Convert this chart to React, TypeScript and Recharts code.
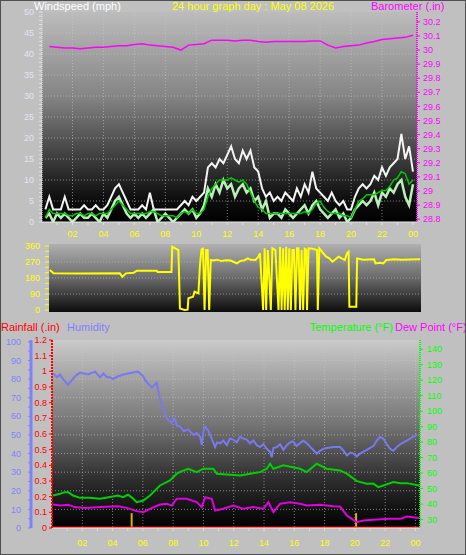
import React from 'react';
import { LineChart, Line, XAxis, YAxis, CartesianGrid, ReferenceLine } from 'recharts';

// ---------- top chart: wind (15-minute samples) + barometer (30-minute samples) ----------
const windHours = Array.from({ length: 96 }, (_, i) => (i + 1) * 0.25);
const windGust = [
  3, 6, 3, 3, 3, 6, 3, 3, 3, 3, 4, 3, 3, 4, 3, 3, 4, 6, 8, 9, 7, 5, 3, 3,
  3, 4, 3, 7, 3, 3, 3, 3, 3, 3, 3, 4, 5, 4, 6, 5, 6, 7, 13, 14, 13, 15, 14, 16,
  18, 15, 14, 17, 15, 17, 13, 12, 8, 6, 7, 5, 6, 5, 7, 6, 5, 8, 6, 9, 7, 12, 8, 7,
  6, 5, 7, 5, 4, 5, 3, 3, 6, 8, 9, 8, 9, 11, 10, 13, 11, 13, 14, 15, 21, 15, 18, 12,
];
const windSpeed = [
  1, 2, 0, 2, 1, 2, 1, 0, 1, 2, 1, 1, 2, 1, 0, 2, 1, 3, 5, 6, 4, 2, 1, 2,
  1, 2, 1, 2, 3, 0, 1, 2, 1, 0, 1, 2, 3, 2, 3, 1, 2, 4, 8, 6, 9, 7, 10, 8,
  9, 6, 8, 9, 7, 8, 5, 6, 3, 5, 1, 2, 2, 1, 3, 2, 1, 2, 3, 4, 2, 4, 5, 3,
  2, 1, 2, 3, 1, 2, 0, 1, 3, 4, 5, 4, 5, 7, 4, 7, 6, 8, 7, 9, 10, 6, 4, 9,
];
const windAvg = [
  1, 3, 2, 2, 2, 2, 1.5, 1.5, 2, 2, 1.5, 2, 2, 1.5, 2, 2, 2, 3, 4, 5, 4, 3, 2, 2,
  2, 2, 2, 2.5, 2.5, 2, 1.5, 1.5, 1.5, 1.5, 1, 2, 2.5, 2, 3, 2, 2, 3, 6, 8, 9, 10, 10, 10,
  10.5, 10, 9.5, 10, 9, 7, 5, 3.5, 3, 2, 2, 2, 2, 2, 2, 2, 2, 2, 2, 2.5, 2, 3, 4.5, 5,
  3.5, 2.5, 2, 2, 2, 1.5, 1.5, 1, 3, 5, 5.5, 6.5, 6.5, 6.5, 7, 7.5, 7.5, 8.5, 10, 10.5, 12, 11.5, 9, 10,
];
const baroHours = Array.from({ length: 48 }, (_, i) => (i + 1) * 0.5);
const baroValues = [
  30.025, 30.02, 30.015, 30.015, 30.01, 30.015, 30.02, 30.02, 30.025, 30.03, 30.03, 30.04,
  30.045, 30.035, 30.03, 30.025, 30.02, 30.0, 30.035, 30.04, 30.045, 30.07, 30.07, 30.07,
  30.065, 30.07, 30.07, 30.06, 30.055, 30.06, 30.06, 30.06, 30.06, 30.06, 30.065, 30.065,
  30.035, 30.015, 30.025, 30.03, 30.035, 30.05, 30.06, 30.075, 30.08, 30.085, 30.09, 30.105,
];

// ---------- middle chart: wind direction (hour, degrees) ----------
const dirPoints: [number, number][] = [
  [0.15, 225], [0.4, 206], [2, 205], [4.7, 206], [4.86, 187], [5.1, 206], [5.6, 210], [5.8, 221],
  [7.1, 221], [7.15, 214], [8.05, 214], [8.1, 356], [8.3, 347], [8.5, 337], [8.6, 9], [8.9, 0],
  [9.1, 2], [9.15, 66], [9.45, 75], [9.55, 103], [9.8, 94], [9.9, 253], [10.0, 341], [10.1, 345],
  [10.2, 0], [10.3, 337], [10.4, 337], [10.5, 0], [10.6, 281], [10.75, 278], [11.0, 283], [11.3, 275],
  [11.6, 280], [11.9, 278], [12.1, 270], [12.3, 262], [12.5, 275], [12.8, 280], [13.0, 290], [13.2, 282],
  [13.5, 281], [13.7, 300], [13.8, 319], [14.0, 0], [14.1, 347], [14.2, 0], [14.3, 337], [14.35, 281],
  [14.5, 0], [14.6, 347], [14.8, 337], [15.0, 0], [15.1, 356], [15.2, 0], [15.3, 347], [15.4, 0],
  [15.5, 356], [15.6, 0], [15.7, 347], [15.8, 0], [15.9, 337], [16.0, 337], [16.1, 0], [16.2, 347],
  [16.3, 347], [16.4, 0], [16.5, 337], [16.6, 0], [16.7, 345], [16.8, 340], [16.85, 0], [16.95, 347],
  [17.2, 345], [17.5, 337], [17.55, 0], [17.65, 347], [17.9, 319], [18.1, 300], [18.3, 290], [18.5, 272],
  [18.7, 285], [18.9, 300], [19.1, 290], [19.3, 281], [19.45, 320], [19.55, 328], [19.6, 19], [20.05, 19],
  [20.1, 290], [20.5, 283], [21.2, 285], [21.3, 262], [21.6, 266], [21.8, 262], [22.0, 281], [22.5, 285],
  [23.0, 283], [23.5, 284], [24.2, 285],
];

// ---------- bottom chart ----------
const humidityPoints: [number, number][] = [
  [0.07, 83], [0.33, 81], [0.53, 82.5], [0.73, 80], [1.06, 77], [1.32, 79.5], [1.6, 82], [1.85, 83.5],
  [2.38, 82.5], [2.84, 84], [3.17, 81], [3.4, 83], [3.63, 81], [3.83, 81], [4.03, 80], [4.36, 81.5],
  [4.75, 82.5], [5.02, 83], [5.37, 83.5], [5.68, 84], [6.03, 81.5], [6.14, 79.5], [6.4, 77], [6.59, 75.5],
  [6.92, 78], [7.13, 69], [7.33, 65], [7.5, 60], [7.66, 58], [7.91, 56.5], [8.1, 59], [8.24, 55],
  [8.45, 54.5], [8.7, 52], [9.0, 53], [9.11, 52], [9.35, 50], [9.56, 51], [9.78, 49], [9.89, 44.5],
  [10.0, 52], [10.11, 54.5], [10.3, 52.5], [10.55, 48], [10.77, 43.5], [10.9, 46], [11.1, 45.5], [11.31, 47],
  [11.54, 44.5], [11.75, 48], [11.97, 47.5], [12.2, 46], [12.42, 49], [12.64, 48], [12.86, 47.5], [13.08, 45.5],
  [13.3, 47], [13.52, 44.5], [13.74, 43.5], [13.96, 45], [14.18, 42.5], [14.4, 41], [14.51, 38], [14.62, 43],
  [14.84, 43.5], [15.06, 45], [15.28, 42], [15.5, 44.5], [15.72, 46], [15.92, 46.5], [16.15, 44], [16.38, 45.5],
  [16.6, 47], [16.82, 45.5], [17.0, 44], [17.24, 42], [17.48, 40], [17.7, 41.5], [17.92, 42.5], [18.14, 43],
  [18.58, 43.5], [19.02, 43.5], [19.25, 41.5], [19.47, 39], [19.7, 40.5], [19.9, 40], [20.13, 38.5], [20.35, 40],
  [20.56, 41], [20.79, 42], [21.0, 43], [21.22, 44], [21.45, 47], [21.66, 49], [21.88, 48], [22.11, 45],
  [22.33, 42.5], [22.54, 41.5], [22.77, 43.5], [23.0, 45], [23.2, 46], [23.43, 47], [23.64, 48], [23.84, 49],
  [24.1, 50],
];
const temperaturePoints: [number, number][] = [
  [0.07, 45.5], [0.53, 46.6], [0.8, 47.5], [1.06, 47.7], [1.39, 45.5], [1.85, 44], [2.51, 44], [3.17, 43.4],
  [3.83, 44.5], [4.36, 45.5], [4.69, 44.4], [5.02, 46], [5.3, 44], [5.59, 41.2], [6.03, 42.3], [6.47, 45.5],
  [7.13, 52], [7.79, 55.2], [8.24, 59.6], [8.57, 61.3], [9.0, 62.8], [9.56, 60.6], [9.99, 62.8], [10.65, 62.8],
  [10.88, 59.6], [11.54, 59.1], [12.42, 58.5], [13.08, 59.6], [13.74, 60.6], [14.18, 62.8], [14.4, 66], [14.62, 62.8],
  [15.28, 65], [15.83, 63.9], [16.38, 62.8], [16.82, 60.6], [17.48, 66], [18.14, 62.8], [19.02, 61.7], [19.47, 59.6],
  [20.13, 54.8], [20.79, 53.1], [21.22, 53.2], [21.55, 50.9], [21.88, 52], [22.54, 54.2], [23.0, 53.5], [23.43, 53.5],
  [24.24, 52],
];
const dewPointPoints: [number, number][] = [
  [0.07, 39.7], [0.53, 39], [1.06, 39.5], [1.52, 38], [2.18, 37.5], [3.17, 38], [4.36, 38.5], [4.93, 37.5],
  [5.59, 35.4], [6.03, 34.7], [6.47, 36.9], [7.13, 39.7], [7.58, 40.2], [7.91, 39], [8.24, 43.4], [8.9, 43.4],
  [9.56, 41.2], [9.89, 38], [10.11, 44.4], [10.55, 43.4], [10.77, 35.8], [11.31, 36.9], [11.97, 39], [12.64, 36.9],
  [13.3, 38], [13.96, 37], [14.29, 41.2], [14.62, 34.7], [15.06, 40.2], [15.72, 41.2], [16.38, 40.2], [16.82, 39],
  [17.7, 39.5], [18.58, 38.6], [19.02, 38.4], [19.47, 32.6], [20.13, 28.3], [20.56, 29.4], [21.45, 30], [22.33, 30.4],
  [23.0, 30.4], [23.43, 31.9], [24.24, 31],
];
const rainfallPoints: [number, number][] = [[0, 0], [24.3, 0]];
const markerHours = [5.26, 20.08];

// ---------- tick lists ----------
const hourTicks = Array.from({ length: 24 }, (_, i) => i + 1);
const windTicks = Array.from({ length: 51 }, (_, i) => i);
const baroTicks = [28.8, 28.9, 29.0, 29.1, 29.2, 29.3, 29.4, 29.5, 29.6, 29.7, 29.8, 29.9, 30.0, 30.1, 30.2];
const dirTicks = [0, 30, 60, 90, 120, 150, 180, 210, 240, 270, 300, 330, 360];
const compassTicks = [0, 90, 180, 270, 360];
const compassLabels: Record<number, string> = { 0: 'N', 90: 'E', 180: 'S', 270: 'W', 360: 'N' };
const humTicks = [0, 5, 10, 15, 20, 25, 30, 35, 40, 45, 50, 55, 60, 65, 70, 75, 80, 85, 90, 95, 100];
const rainTicks = [0, 0.1, 0.2, 0.3, 0.4, 0.5, 0.6, 0.7, 0.8, 0.9, 1.0, 1.1, 1.2];
const tempTicks = [30, 40, 50, 60, 70, 80, 90, 100, 110, 120, 130, 140];

const windData = windHours.map((h, i) => ({ h, gust: windGust[i], speed: windSpeed[i], avg: windAvg[i] }));
const baroData = baroHours.map((h, i) => ({ h, v: baroValues[i] }));
const toRows = (pts: [number, number][]) => pts.map(([h, v]) => ({ h, v }));

const fmt1 = (v: number) => String(Number(v.toFixed(1)));

const HourTick = (props: any) => {
  const { x, y, payload } = props;
  const v = payload.value;
  if (v % 2 !== 0) return <g />;
  const label = v === 24 ? '00' : String(v).padStart(2, '0');
  return (
    <text x={x} y={y} dy="0.71em" textAnchor="middle" fill="#ffff00" fontSize={9}>
      {label}
    </text>
  );
};

const makeYTick = (color: string, step: number, fmt: (v: number) => string) => (props: any) => {
  const { x, y, payload, textAnchor } = props;
  const v = payload.value;
  const r = v / step;
  if (Math.abs(r - Math.round(r)) > 1e-6) return <g />;
  return (
    <text x={x} y={y} dy="0.35em" textAnchor={textAnchor} fill={color} fontSize={9}>
      {fmt(v)}
    </text>
  );
};

const WindTick = makeYTick('#e4e4f4', 5, (v) => String(v));
const BaroTick = makeYTick('#ff00ff', 0.1, fmt1);
const DirTick = makeYTick('#ffff00', 90, (v) => String(v));
const HumTick = makeYTick('#8080ff', 10, (v) => String(v));
const RainTick = makeYTick('#ff0000', 0.1, fmt1);
const TempTick = makeYTick('#00ff00', 10, (v) => String(v));

const CompassTick = (props: any) => {
  const { x, y, payload } = props;
  return (
    <text x={x + 11} y={y} dy="0.36em" textAnchor="middle" fill="#ffff00" fontSize={14}>
      {compassLabels[payload.value]}
    </text>
  );
};

const title = (text: string, color: string, style: React.CSSProperties) => (
  <div
    style={{
      position: 'absolute',
      fontSize: 11,
      lineHeight: '12px',
      color,
      whiteSpace: 'nowrap',
      ...style,
    }}
  >
    {text}
  </div>
);

export default function App() {
  return (
    <div
      style={{
        position: 'relative',
        width: 466,
        height: 555,
        background: '#c0c0c0',
        overflow: 'hidden',
        fontFamily: '"Liberation Sans", Arial, sans-serif',
      }}
    >
      <style>{'body{margin:0}'}</style>

      {/* top chart */}
      <div style={{ position: 'absolute', left: 0, top: 0 }}>
        <LineChart width={466} height={250} data={windData} margin={{ top: 12, right: 0, bottom: 8, left: 0 }}>
          <defs>
            <linearGradient id="bgTop" x1="0" y1="0" x2="0" y2="1">
              <stop offset="0%" stopColor="#bcbcbc" />
              <stop offset="40%" stopColor="#858585" />
              <stop offset="70%" stopColor="#3c3c3c" />
              <stop offset="88%" stopColor="#101010" />
              <stop offset="100%" stopColor="#000000" />
            </linearGradient>
          </defs>
          <CartesianGrid
            yAxisId="wind"
            fill="url(#bgTop)"
            stroke="#c8c8c8"
            strokeOpacity={0.6}
            strokeDasharray="1 2"
            horizontalValues={[5, 10, 15, 20, 25, 30, 35, 40, 45]}
            verticalValues={[2, 4, 6, 8, 10, 12, 14, 16, 18, 20, 22]}
          />
          <XAxis
            type="number"
            dataKey="h"
            domain={[0.03, 24.26]}
            allowDataOverflow
            ticks={hourTicks}
            interval={0}
            height={20}
            tick={<HourTick />}
            tickSize={3}
            tickMargin={6}
            tickLine={{ stroke: '#e0e0e0' }}
            axisLine={{ stroke: '#e8e8e8' }}
          />
          <YAxis
            yAxisId="wind"
            orientation="left"
            width={42}
            domain={[0, 50]}
            allowDataOverflow
            ticks={windTicks}
            interval={0}
            tick={<WindTick />}
            tickSize={3}
            tickMargin={5}
            tickLine={{ stroke: '#e0e0e0' }}
            axisLine={{ stroke: '#e8e8e8', strokeDasharray: '1 1' }}
          />
          <YAxis
            yAxisId="baro"
            orientation="right"
            width={49}
            domain={[28.78, 30.27]}
            allowDataOverflow
            ticks={baroTicks}
            interval={0}
            tick={<BaroTick />}
            tickSize={3}
            tickMargin={3}
            tickLine={{ stroke: '#ff00ff' }}
            axisLine={{ stroke: '#ff00ff', strokeDasharray: '1 1', strokeWidth: 2 }}
          />
          <Line yAxisId="wind" dataKey="gust" stroke="#f4f4f4" strokeWidth={2} dot={false} type="linear" isAnimationActive={false} />
          <Line yAxisId="wind" dataKey="speed" stroke="#b8f0b8" strokeWidth={2.5} dot={false} type="linear" isAnimationActive={false} />
          <Line yAxisId="wind" dataKey="avg" stroke="#00c800" strokeWidth={1.5} dot={false} type="linear" isAnimationActive={false} />
          <Line yAxisId="baro" data={baroData} dataKey="v" stroke="#ff00ff" strokeWidth={1.5} dot={false} type="linear" isAnimationActive={false} />
        </LineChart>
      </div>

      {/* middle chart: wind direction */}
      <div style={{ position: 'absolute', left: 0, top: 240 }}>
        <LineChart width={466} height={80} margin={{ top: 4, right: 0, bottom: 8, left: 0 }}>
          <defs>
            <linearGradient id="bgMid" x1="0" y1="0" x2="0" y2="1">
              <stop offset="0%" stopColor="#b0b0b0" />
              <stop offset="50%" stopColor="#6a6a6a" />
              <stop offset="100%" stopColor="#0c0c0c" />
            </linearGradient>
          </defs>
          <CartesianGrid
            yAxisId="dir"
            fill="url(#bgMid)"
            stroke="#c0c0c0"
            strokeOpacity={0.6}
            strokeDasharray="1 2"
            vertical={false}
            horizontalValues={[90, 180, 270]}
          />
          <XAxis type="number" dataKey="h" domain={[0.1, 24.25]} allowDataOverflow hide />
          <YAxis
            yAxisId="dir"
            orientation="left"
            width={49}
            domain={[-11, 371]}
            allowDataOverflow
            ticks={dirTicks}
            interval={0}
            tick={<DirTick />}
            tickSize={4}
            tickMargin={5}
            tickLine={{ stroke: '#ffff00' }}
            axisLine={false}
          />
          <YAxis
            yAxisId="compass"
            orientation="right"
            width={45}
            domain={[-11, 371]}
            ticks={compassTicks}
            interval={0}
            tick={<CompassTick />}
            tickLine={false}
            axisLine={false}
          />
          <Line yAxisId="dir" data={toRows(dirPoints)} dataKey="v" stroke="#ffff00" strokeWidth={2} dot={false} type="linear" isAnimationActive={false} />
        </LineChart>
      </div>

      {/* bottom chart */}
      <div style={{ position: 'absolute', left: 0, top: 320 }}>
        <LineChart width={466} height={235} margin={{ top: 20, right: 0, bottom: 7, left: 0 }}>
          <defs>
            <linearGradient id="bgBot" x1="0" y1="0" x2="0" y2="1">
              <stop offset="0%" stopColor="#cacaca" />
              <stop offset="45%" stopColor="#747474" />
              <stop offset="75%" stopColor="#2c2c2c" />
              <stop offset="100%" stopColor="#000000" />
            </linearGradient>
          </defs>
          <CartesianGrid
            yAxisId="b_hum"
            fill="url(#bgBot)"
            stroke="#c8c8c8"
            strokeOpacity={0.6}
            strokeDasharray="1 2"
            horizontalValues={[10, 20, 30, 40, 50, 60, 70, 80, 90, 100]}
            verticalValues={[2, 4, 6, 8, 10, 12, 14, 16, 18, 20, 22, 24]}
          />
          <XAxis
            type="number"
            dataKey="h"
            domain={[0, 24.3]}
            allowDataOverflow
            ticks={hourTicks}
            interval={0}
            height={20}
            tick={<HourTick />}
            tickSize={3}
            tickMargin={9}
            tickLine={{ stroke: '#e0e0e0' }}
            axisLine={{ stroke: '#e8e8e8' }}
          />
          <YAxis
            yAxisId="a_rain"
            orientation="left"
            width={21}
            domain={[0, 1.2]}
            allowDataOverflow
            ticks={rainTicks}
            interval={0}
            tick={<RainTick />}
            tickSize={3}
            tickMargin={2}
            tickLine={{ stroke: '#ff0000' }}
            axisLine={{ stroke: '#ff0000', strokeDasharray: '2 1', strokeWidth: 2 }}
          />
          <YAxis
            yAxisId="b_hum"
            orientation="left"
            width={31}
            domain={[0, 101]}
            allowDataOverflow
            ticks={humTicks}
            interval={0}
            tick={<HumTick />}
            tickSize={3}
            tickMargin={7}
            tickLine={{ stroke: '#8080ff' }}
            axisLine={{ stroke: '#8080ff', strokeWidth: 3 }}
          />
          <YAxis
            yAxisId="temp"
            orientation="right"
            width={46}
            domain={[24.5, 146]}
            allowDataOverflow
            ticks={tempTicks}
            interval={0}
            tick={<TempTick />}
            tickSize={3}
            tickMargin={4}
            tickLine={{ stroke: '#00ff00' }}
            axisLine={{ stroke: '#00ff00', strokeDasharray: '1 1', strokeWidth: 2 }}
          />
          {markerHours.map((h) => (
            <ReferenceLine
              key={h}
              yAxisId="b_hum"
              segment={[{ x: h, y: 0 }, { x: h, y: 8 }]}
              stroke="#d8b000"
              strokeWidth={2}
            />
          ))}
          <Line yAxisId="b_hum" data={toRows(humidityPoints)} dataKey="v" stroke="#7878f0" strokeWidth={2} dot={false} type="linear" isAnimationActive={false} />
          <Line yAxisId="temp" data={toRows(temperaturePoints)} dataKey="v" stroke="#00d000" strokeWidth={2} dot={false} type="linear" isAnimationActive={false} />
          <Line yAxisId="temp" data={toRows(dewPointPoints)} dataKey="v" stroke="#e000e0" strokeWidth={2} dot={false} type="linear" isAnimationActive={false} />
          <Line yAxisId="a_rain" data={toRows(rainfallPoints)} dataKey="v" stroke="#ff0000" strokeWidth={3} dot={false} type="linear" isAnimationActive={false} />
        </LineChart>
      </div>

      {/* titles */}
      {title('Windspeed (mph)', '#ffffff', { left: 34, top: 0 })}
      {title('24 hour graph day : May 08 2026', '#ffff00', { left: 172, top: 0 })}
      {title('Barometer (.in)', '#ff00ff', { left: 371, top: 0 })}
      {title('Rainfall (.in)', '#ff0000', { left: 1, top: 321 })}
      {title('Humidity', '#8080ff', { left: 67, top: 321 })}
      {title('Temperature (°F)', '#00ff00', { right: 73, top: 321 })}
      {title('Dew Point (°F)', '#ff00ff', { left: 395, top: 321 })}

      <div
        style={{
          position: 'absolute',
          left: 0,
          top: 0,
          width: 466,
          height: 555,
          boxSizing: 'border-box',
          border: '1px solid #505050',
          pointerEvents: 'none',
        }}
      />
    </div>
  );
}
